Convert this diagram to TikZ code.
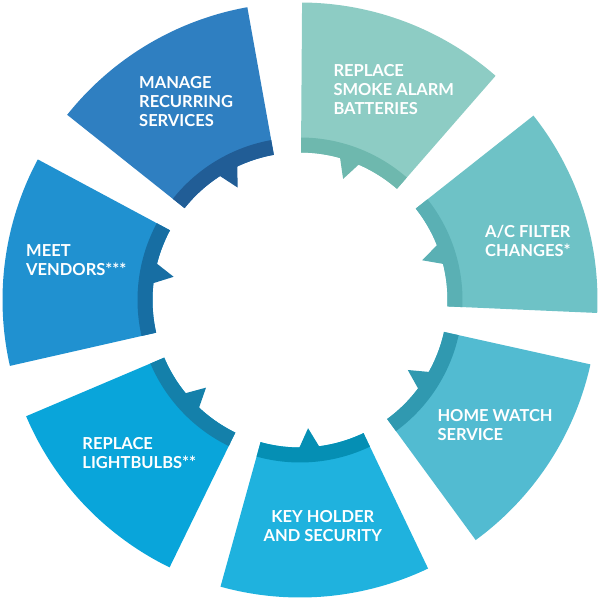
\documentclass[tikz,border=0pt]{standalone}
\usepackage{fontspec}
\setmainfont{Lato}
\definecolor{repA}{HTML}{8DCCC4}\definecolor{repB}{HTML}{6EB8AE}
\definecolor{acA}{HTML}{6EC2C6}\definecolor{acB}{HTML}{5AB0B4}
\definecolor{homA}{HTML}{52BBD1}\definecolor{homB}{HTML}{3099B0}
\definecolor{keyA}{HTML}{1FB2DE}\definecolor{keyB}{HTML}{058FB4}
\definecolor{ligA}{HTML}{09A5DA}\definecolor{ligB}{HTML}{1480AA}
\definecolor{meeA}{HTML}{2091D0}\definecolor{meeB}{HTML}{176EA3}
\definecolor{manA}{HTML}{2F7FC1}\definecolor{manB}{HTML}{215D96}
\begin{document}
\begin{tikzpicture}[x=1pt,y=1pt,
  lbl/.style={text=white, font=\bfseries\fontsize{16.5}{19}\selectfont, inner sep=0pt, align=left, anchor=base west},
  lblc/.style={lbl, align=center, anchor=base}]
\useasboundingbox (-300,-299) rectangle (299,300);
\def\Ro{297.5}\def\Ri{147.5}\def\Rb{162.5}\def\Rt{128.5}
\foreach \a/\b/\t/\ca/\cb in {89.6/48.9/70.4/repA/repB, 38.3/-2.5/18/acA/acB, -12.5/-53.8/-33/homA/homB, -64.5/-105.5/-86.4/keyA/keyB, 244/203/223/ligA/ligB, 192.8/151.8/169.6/meeA/meeB, 141.5/100.2/119/manA/manB}{
  \fill[\ca] (\a:\Ro) arc[start angle=\a, end angle=\b, radius=\Ro] -- (\b:\Ri) arc[start angle=\b, end angle=\a, radius=\Ri] -- cycle;
  \fill[\cb] (\a:\Rb) arc[start angle=\a, end angle=\b, radius=\Rb] -- (\b:\Ri) arc[start angle=\b, end angle=\a, radius=\Ri] -- cycle;
  \fill[\cb] ({\t+4}:{\Ri+1}) -- (\t:\Rt) -- ({\t-4}:{\Ri+1}) -- cycle;
}
\node[lbl] (manage) at (-161,173.3) {MANAGE\\RECURRING\\SERVICES};
\node[lbl] (smoke) at (33.3,185.7) {REPLACE\\SMOKE ALARM\\BATTERIES};
\node[lbl] (filter) at (185,43.3) {A/C FILTER\\CHANGES*};
\node[lbl] (watch) at (137.3,-140) {HOME WATCH\\SERVICE};
\node[lblc] (key) at (22.8,-241.7) {KEY HOLDER\\AND SECURITY};
\node[lbl] (bulbs) at (-217.7,-168.3) {REPLACE\\LIGHTBULBS**};
\node[lbl] (vendors) at (-274,24) {MEET\\VENDORS***};
\end{tikzpicture}
\end{document}
